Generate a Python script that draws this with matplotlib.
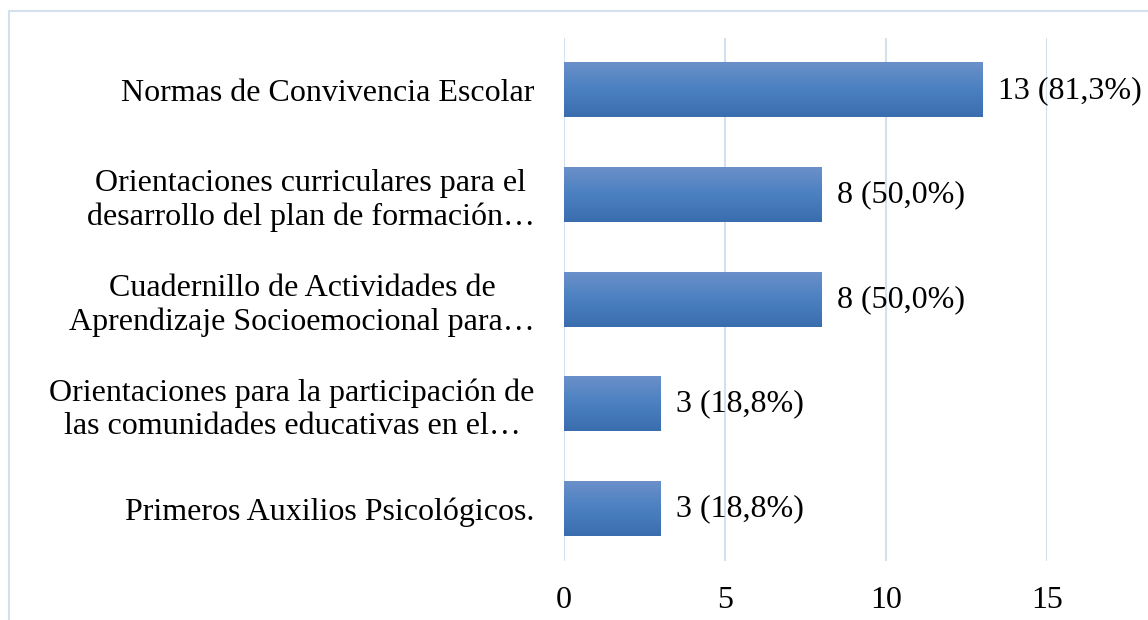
import numpy as np
import matplotlib
matplotlib.use("Agg")
import matplotlib.pyplot as plt
from matplotlib.colors import LinearSegmentedColormap
from matplotlib.patches import Rectangle

plt.rcParams["font.family"] = ["Liberation Serif", "DejaVu Serif"]

categories = [
    "Normas de Convivencia Escolar",
    "Orientaciones curriculares para el\ndesarrollo del plan de formación…",
    "Cuadernillo de Actividades de\nAprendizaje Socioemocional para…",
    "Orientaciones para la participación de\nlas comunidades educativas en el…",
    "Primeros Auxilios Psicológicos.",
]
counts = [13, 8, 8, 3, 3]
percents = ["81,3%", "50,0%", "50,0%", "18,8%", "18,8%"]
xticks = [0, 5, 10, 15]

GRID = "#d3e0f0"
FS = 23
bar_cmap = LinearSegmentedColormap.from_list(
    "bar", ["#6b90c9", "#4a80c1", "#3a6dae"])

fig = plt.figure(figsize=(11.48, 6.2), dpi=100)
ax = fig.add_axes([564 / 1148, 1 - 561 / 620, 483 / 1148, 523 / 620])

# outer frame of the chart area
fig.add_artist(Rectangle((9 / 1148, -0.05), 1.2, 1 - 11 / 620 + 0.05,
                         transform=fig.transFigure, fill=False,
                         edgecolor=GRID, lw=1.5))

y = np.arange(len(categories))
height = 0.52
bars = ax.barh(y, counts, height=height, color="none", zorder=2)
grad = np.linspace(0, 1, 256).reshape(-1, 1)
for b in bars:
    x0, y0 = b.get_x(), b.get_y()
    w, h = b.get_width(), b.get_height()
    ax.imshow(grad, cmap=bar_cmap, aspect="auto", zorder=2,
              extent=[x0, x0 + w, y0 + h, y0], interpolation="bicubic")

for yi, c, p in zip(y, counts, percents):
    ax.annotate(f"{c} ({p})", (c, yi), xytext=(11, 0),
                textcoords="offset points", ha="left", va="center",
                fontsize=FS, zorder=3)

ax.set_xlim(0, 15)
ax.set_ylim(len(categories) - 0.5, -0.5)
ax.set_xticks(xticks)
ax.set_yticks(y)
ax.set_yticklabels(categories, fontsize=FS, multialignment="center",
                   linespacing=1.2)
ax.tick_params(axis="x", labelsize=FS, length=0, pad=18)
ax.tick_params(axis="y", length=0, pad=21)
ax.xaxis.grid(True, color=GRID, lw=1.5, zorder=0)
ax.set_axisbelow(True)
for s in ax.spines.values():
    s.set_visible(False)

fig.savefig("out.png", dpi=100)
